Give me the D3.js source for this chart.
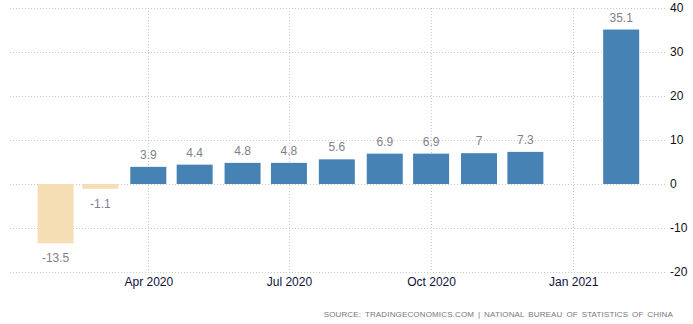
<!DOCTYPE html>
<html>
<head>
<meta charset="utf-8">
<script src="https://cdn.jsdelivr.net/npm/d3@7"></script>
<style>
  html, body { margin: 0; padding: 0; background: #fff; }
  svg { display: block; font-family: "Liberation Sans", Arial, sans-serif; }
</style>
</head>
<body>
<svg id="chart" width="693" height="324"></svg>
<script>
// China industrial production, YoY %, monthly
const months = ["2020-02", "2020-03", "2020-04", "2020-05", "2020-06", "2020-07",
                "2020-08", "2020-09", "2020-10", "2020-11", "2020-12", "2021-02"];
const values = [-13.5, -1.1, 3.9, 4.4, 4.8, 4.8, 5.6, 6.9, 6.9, 7, 7.3, 35.1];
const yTicks = [-20, -10, 0, 10, 20, 30, 40];
const xTicks = ["2020-04", "2020-07", "2020-10", "2021-01"];
const sourceText = "SOURCE: TRADINGECONOMICS.COM | NATIONAL BUREAU OF STATISTICS OF CHINA";

const parse = d3.timeParse("%Y-%m");
const data = months.map((m, i) => ({ date: parse(m), value: values[i] }));

// plain hyphen for negative numbers
const locale = d3.formatLocale({ decimal: ".", thousands: ",", grouping: [3], currency: ["", ""], minus: "-" });
const fmt = locale.format("");

const svg = d3.select("#chart");
const plot = { left: 10, right: 666, top: 8, bottom: 272 };

const x = d3.scaleTime()
  .domain([new Date(2020, 0, 2, 12), new Date(2021, 2, 2)])
  .range([plot.left, plot.right]);
const y = d3.scaleLinear().domain([-20, 40]).range([plot.bottom, plot.top]);

const barW = 36;

// horizontal grid
svg.append("g").selectAll("line").data(yTicks).join("line")
  .attr("x1", plot.left).attr("x2", plot.right)
  .attr("y1", d => Math.round(y(d)) + 0.5).attr("y2", d => Math.round(y(d)) + 0.5)
  .attr("stroke", "#c8c8c8").attr("stroke-dasharray", "1,2");

// vertical grid at quarter starts
svg.append("g").selectAll("line").data(xTicks.map(parse)).join("line")
  .attr("x1", d => Math.round(x(d)) + 0.5).attr("x2", d => Math.round(x(d)) + 0.5)
  .attr("y1", plot.top).attr("y2", plot.bottom)
  .attr("stroke", "#c8c8c8").attr("stroke-dasharray", "1,2");

// bars
svg.append("g").selectAll("rect").data(data).join("rect")
  .attr("x", d => x(d.date) - barW / 2)
  .attr("width", barW)
  .attr("y", d => y(Math.max(0, d.value)))
  .attr("height", d => Math.abs(y(d.value) - y(0)))
  .attr("fill", d => d.value < 0 ? "#f5deb3" : "#4682b4");

// value labels
svg.append("g").selectAll("text").data(data).join("text")
  .attr("x", d => x(d.date))
  .attr("y", d => d.value < 0 ? y(d.value) + 19 : y(d.value) - 8)
  .attr("text-anchor", "middle")
  .attr("font-size", 12)
  .attr("fill", "#807f8c")
  .text(d => fmt(d.value));

// y axis labels on the right
const yAxis = d3.axisRight(y).tickValues(yTicks).tickFormat(fmt).tickSize(0).tickPadding(4);
svg.append("g").attr("transform", `translate(${plot.right},0)`).call(yAxis)
  .call(g => g.select(".domain").remove())
  .call(g => g.selectAll("text").attr("font-size", 12).attr("fill", "#111")
    .attr("font-family", "Liberation Sans, Arial, sans-serif"));

// x axis labels
const xAxis = d3.axisBottom(x).tickValues(xTicks.map(parse))
  .tickFormat(d3.timeFormat("%b %Y")).tickSize(0).tickPadding(5);
svg.append("g").attr("transform", `translate(0,${plot.bottom})`).call(xAxis)
  .call(g => g.select(".domain").remove())
  .call(g => g.selectAll("text").attr("font-size", 12).attr("fill", "#0f0f3c")
    .attr("font-family", "Liberation Sans, Arial, sans-serif"));

// source note
svg.append("text")
  .attr("x", 673).attr("y", 317)
  .attr("text-anchor", "end")
  .attr("font-size", 8)
  .attr("letter-spacing", 0.15)
  .attr("word-spacing", 1.5)
  .attr("fill", "#777")
  .text(sourceText);
</script>
</body>
</html>
